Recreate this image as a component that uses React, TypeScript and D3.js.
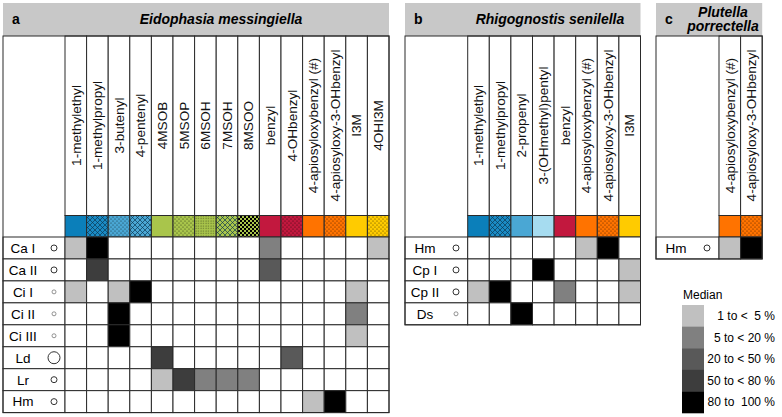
import * as d3 from "d3";
import React from "react";

// --- data ---
const compoundsA = [
  "1-methylethyl", "1-methylpropyl", "3-butenyl", "4-pentenyl", "4MSOB", "5MSOP",
  "6MSOH", "7MSOH", "8MSOO", "benzyl", "4-OHbenzyl", "4-apiosyloxybenzyl (#)",
  "4-apiosyloxy-3-OHbenzyl", "I3M", "4OHI3M",
];
const speciesA = ["Ca I", "Ca II", "Ci I", "Ci II", "Ci III", "Ld", "Lr", "Hm"];
const sizeA = [2, 2, 1, 1, 1, 3, 2, 2];
const levelsA = [
  [1, 5, 0, 0, 0, 0, 0, 0, 0, 2, 0, 0, 0, 0, 1],
  [0, 4, 0, 0, 0, 0, 0, 0, 0, 3, 0, 0, 0, 0, 0],
  [1, 0, 1, 5, 0, 0, 0, 0, 0, 0, 0, 0, 0, 1, 0],
  [0, 0, 5, 0, 0, 0, 0, 0, 0, 0, 0, 0, 0, 2, 0],
  [0, 0, 5, 0, 0, 0, 0, 0, 0, 0, 0, 0, 0, 1, 0],
  [0, 0, 0, 0, 4, 0, 0, 0, 0, 0, 3, 0, 0, 0, 0],
  [0, 0, 0, 0, 1, 4, 2, 2, 2, 0, 0, 0, 0, 0, 0],
  [0, 0, 0, 0, 0, 0, 0, 0, 0, 0, 0, 1, 5, 0, 0],
];

const compoundsB = [
  "1-methylethyl", "1-methylpropyl", "2-propenyl", "3-(OHmethyl)pentyl", "benzyl",
  "4-apiosyloxybenzyl (#)", "4-apiosyloxy-3-OHbenzyl", "I3M",
];
const speciesB = ["Hm", "Cp I", "Cp II", "Ds"];
const sizeB = [2, 2, 2, 1];
const levelsB = [
  [0, 0, 0, 0, 0, 1, 5, 0],
  [0, 0, 0, 5, 0, 0, 0, 1],
  [1, 5, 0, 0, 2, 0, 0, 1],
  [0, 0, 5, 0, 0, 0, 0, 0],
];

const compoundsC = ["4-apiosyloxybenzyl (#)", "4-apiosyloxy-3-OHbenzyl"];
const speciesC = ["Hm"];
const sizeC = [2];
const levelsC = [[1, 5]];

const medianBins = ["1 to <  5 %", "5 to < 20 %", "20 to < 50 %", "50 to < 80 %", "80 to  100 %"];

// --- styles ---
const swatch: Record<string, { color: string; pattern?: string }> = {
  "1-methylethyl": { color: "#0b7fba" },
  "1-methylpropyl": { color: "#1a8bc5", pattern: "cross" },
  "3-butenyl": { color: "#4aa7d4", pattern: "dots" },
  "4-pentenyl": { color: "#4aa7d4", pattern: "cross" },
  "2-propenyl": { color: "#4aa7d4" },
  "3-(OHmethyl)pentyl": { color: "#a6dcf0" },
  "4MSOB": { color: "#a9c54b" },
  "5MSOP": { color: "#a9c54b", pattern: "dots" },
  "6MSOH": { color: "#a9c54b", pattern: "dense" },
  "7MSOH": { color: "#a9c54b", pattern: "cross" },
  "8MSOO": { color: "#a9c54b", pattern: "checker" },
  benzyl: { color: "#c2183e" },
  "4-OHbenzyl": { color: "#c2183e", pattern: "dots" },
  "4-apiosyloxybenzyl (#)": { color: "#ff7300" },
  "4-apiosyloxy-3-OHbenzyl": { color: "#ff7300", pattern: "dots" },
  I3M: { color: "#ffcb00" },
  "4OHI3M": { color: "#ffcb00", pattern: "dots" },
};

const levelColor = d3
  .scaleOrdinal<number, string>()
  .domain([1, 2, 3, 4, 5])
  .range(["#c0c0c0", "#808080", "#595959", "#3d3d3d", "#000000"]);

const radius = d3.scaleOrdinal<number, number>().domain([1, 2, 3]).range([2, 3, 6]);

const FONT = "'Liberation Sans', Arial, sans-serif";
const LINE = "#2a2a2a";
const HEAD_TOP = 3;
const HEAD_BOTTOM = 36;
const STRIP_TOP = 215.5;
const ROWS_TOP = 237;
const ROW_H = 21.95;
const COL_W = 21.6;

interface PanelProps {
  letter: string;
  title: string[];
  titleX: number;
  left: number;
  labelW: number;
  compounds: string[];
  species: string[];
  sizes: number[];
  levels: number[][];
}

const Panel: React.FC<PanelProps> = ({ letter, title, titleX, left, labelW, compounds, species, sizes, levels }) => {
  const x0 = left + labelW;
  const x = d3.scaleBand<string>().domain(compounds).range([x0, x0 + compounds.length * COL_W]);
  const y = d3.scaleBand<string>().domain(species).range([ROWS_TOP, ROWS_TOP + species.length * ROW_H]);
  const right = x0 + compounds.length * COL_W;
  const bottom = ROWS_TOP + species.length * ROW_H;
  const bw = x.bandwidth();
  const bh = y.bandwidth();

  return (
    <g>
      {/* header bar */}
      <rect x={left} y={HEAD_TOP} width={right - left} height={HEAD_BOTTOM - HEAD_TOP} fill="#c8c8c8" />
      <text x={left + 9} y={24} fontFamily={FONT} fontSize={14} fontWeight="bold">
        {letter}
      </text>
      <text x={titleX} y={title.length > 1 ? 16.5 : 24} fontFamily={FONT} fontSize={14} fontWeight="bold" fontStyle="italic" textAnchor="middle">
        {title.map((t, i) => (
          <tspan key={t} x={titleX} dy={i === 0 ? 0 : 14.5}>
            {t}
          </tspan>
        ))}
      </text>

      {/* column headers */}
      {compounds.map((c) => (
        <g key={c}>
          <rect x={x(c)} y={HEAD_BOTTOM} width={bw} height={STRIP_TOP - HEAD_BOTTOM} fill="white" stroke={LINE} />
          <text
            transform={`translate(${(x(c) || 0) + bw / 2},125.5) rotate(-90)`}
            dy="0.35em"
            textAnchor="middle"
            fontFamily={FONT}
            fontSize={13.6}
            fill="#111"
          >
            {c}
          </text>
          <rect x={x(c)} y={STRIP_TOP} width={bw} height={ROWS_TOP - STRIP_TOP} fill={swatch[c].color} />
          {swatch[c].pattern && (
            <rect x={x(c)} y={STRIP_TOP} width={bw} height={ROWS_TOP - STRIP_TOP} fill={`url(#pat-${swatch[c].pattern})`} />
          )}
          <rect x={x(c)} y={STRIP_TOP} width={bw} height={ROWS_TOP - STRIP_TOP} fill="none" stroke={LINE} />
        </g>
      ))}

      {/* rows */}
      {species.map((s, i) => (
        <g key={s}>
          <rect x={left} y={y(s)} width={labelW} height={bh} fill="white" stroke={LINE} />
          <text x={left + 20} y={(y(s) || 0) + bh / 2} dy="0.36em" textAnchor="middle" fontFamily={FONT} fontSize={13.5}>
            {s}
          </text>
          <circle
            cx={left + 51}
            cy={(y(s) || 0) + bh / 2}
            r={radius(sizes[i])}
            fill="white"
            stroke={sizes[i] === 1 ? "#777" : "#333"}
            strokeWidth={sizes[i] === 1 ? 0.8 : 1}
          />
          {compounds.map((c, j) => (
            <rect
              key={c}
              x={x(c)}
              y={y(s)}
              width={bw}
              height={bh}
              fill={levels[i][j] ? levelColor(levels[i][j]) : "white"}
              stroke={LINE}
            />
          ))}
        </g>
      ))}

      {/* outer frame */}
      <rect x={left} y={HEAD_BOTTOM} width={right - left} height={bottom - HEAD_BOTTOM} fill="none" stroke={LINE} />
    </g>
  );
};

const Legend: React.FC = () => {
  const ly = d3.scaleBand<string>().domain(medianBins).range([305, 413]);
  return (
    <g fontFamily={FONT} fontSize={12}>
      <text x={683} y={299}>
        Median
      </text>
      {medianBins.map((b, i) => (
        <g key={b}>
          <rect x={682} y={ly(b)} width={22} height={ly.bandwidth() + 0.3} fill={levelColor(i + 1)} />
          <text x={775} y={(ly(b) || 0) + ly.bandwidth() / 2} dy="0.35em" textAnchor="end" style={{ whiteSpace: "pre" }}>
            {b}
          </text>
        </g>
      ))}
    </g>
  );
};

export default function App() {
  return (
    <>
      <style>{`body{margin:0}`}</style>
      <svg width={782} height={417} style={{ display: "block", background: "white" }}>
        <defs>
          <pattern id="pat-cross" width={5} height={5} patternUnits="userSpaceOnUse">
            <path d="M0,0 L5,5 M5,0 L0,5" stroke="#0a3550" strokeOpacity={0.75} strokeWidth={0.9} />
          </pattern>
          <pattern id="pat-dots" width={4} height={4} patternUnits="userSpaceOnUse">
            <circle cx={1} cy={1} r={0.6} fill="#000" fillOpacity={0.7} />
            <circle cx={3} cy={3} r={0.6} fill="#000" fillOpacity={0.7} />
          </pattern>
          <pattern id="pat-dense" width={2.5} height={2.5} patternUnits="userSpaceOnUse">
            <circle cx={1} cy={1} r={0.55} fill="#000" fillOpacity={0.6} />
          </pattern>
          <pattern id="pat-checker" width={4} height={4} patternUnits="userSpaceOnUse">
            <rect x={0} y={0} width={2} height={2} fill="#000" />
            <rect x={2} y={2} width={2} height={2} fill="#000" />
          </pattern>
        </defs>
        <Panel
          letter="a"
          title={["Eidophasia messingiella"]}
          titleX={221}
          left={3}
          labelW={62}
          compounds={compoundsA}
          species={speciesA}
          sizes={sizeA}
          levels={levelsA}
        />
        <Panel
          letter="b"
          title={["Rhigognostis senilella"]}
          titleX={550}
          left={405}
          labelW={62.7}
          compounds={compoundsB}
          species={speciesB}
          sizes={sizeB}
          levels={levelsB}
        />
        <Panel
          letter="c"
          title={["Plutella", "porrectella"]}
          titleX={723}
          left={656}
          labelW={63}
          compounds={compoundsC}
          species={speciesC}
          sizes={sizeC}
          levels={levelsC}
        />
        <Legend />
      </svg>
    </>
  );
}
